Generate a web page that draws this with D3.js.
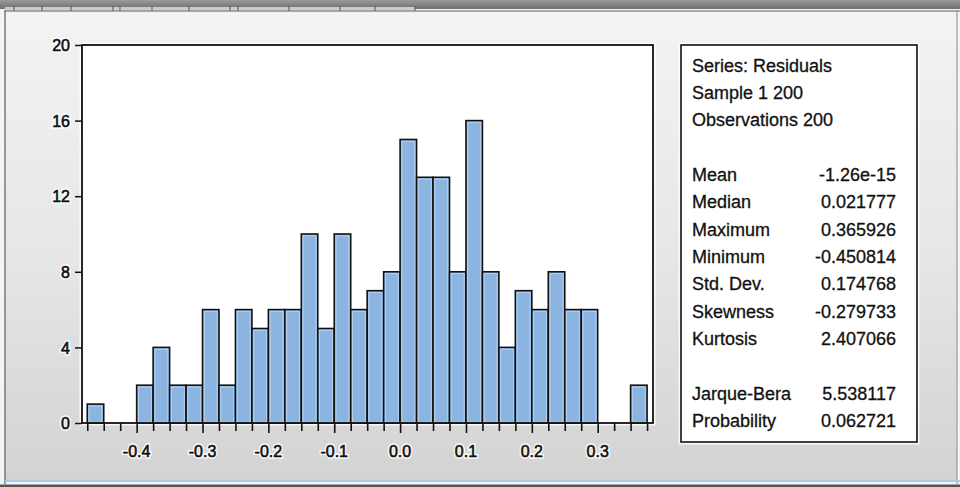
<!DOCTYPE html>
<html>
<head>
<meta charset="utf-8">
<script src="https://cdn.jsdelivr.net/npm/d3@7"></script>
<style>
  html, body { margin: 0; padding: 0; background: #e6e6e6; }
  svg { display: block; }
  text { font-family: "Liberation Sans", Arial, sans-serif; }
</style>
</head>
<body>
<svg id="chart" width="960" height="487"></svg>
<script>
// ---------- data ----------
const binStarts = [-0.475, -0.45, -0.425, -0.4, -0.375, -0.35, -0.325, -0.3, -0.275, -0.25,
                   -0.225, -0.2, -0.175, -0.15, -0.125, -0.1, -0.075, -0.05, -0.025, 0.0,
                   0.025, 0.05, 0.075, 0.1, 0.125, 0.15, 0.175, 0.2, 0.225, 0.25,
                   0.275, 0.3, 0.325, 0.35];
const counts = [1, 0, 0, 2, 4, 2, 2, 6, 2, 6,
                5, 6, 6, 10, 5, 10, 6, 7, 8, 15,
                13, 13, 8, 16, 8, 4, 7, 6, 8, 6,
                6, 0, 0, 2];
const binWidth = 0.025;
const xLabelValues = [-0.4, -0.3, -0.2, -0.1, 0.0, 0.1, 0.2, 0.3];
const xLabelTexts = ["-0.4", "-0.3", "-0.2", "-0.1", "0.0", "0.1", "0.2", "0.3"];
const yTickValues = [0, 4, 8, 12, 16, 20];
const headerLines = ["Series: Residuals", "Sample 1 200", "Observations 200"];
const statNames = ["Mean", "Median", "Maximum", "Minimum", "Std. Dev.", "Skewness", "Kurtosis"];
const statValues = ["-1.26e-15", "0.021777", "0.365926", "-0.450814", "0.174768", "-0.279733", "2.407066"];
const testNames = ["Jarque-Bera", "Probability"];
const testValues = ["5.538117", "0.062721"];
const tabSeparators = [14, 42, 71, 113, 120, 152, 189, 230, 238, 289, 340, 375, 415];

// ---------- layout ----------
const W = 960, H = 487;
const plot = { left: 82, right: 653, top: 45, bottom: 423 };
const svg = d3.select("#chart");
const defs = svg.append("defs");

const bg = defs.append("linearGradient").attr("id", "bg").attr("x1", 0).attr("y1", 0).attr("x2", 0).attr("y2", 1);
bg.append("stop").attr("offset", "0%").attr("stop-color", "#f2f3f2");
bg.append("stop").attr("offset", "50%").attr("stop-color", "#e6e7e6");
bg.append("stop").attr("offset", "100%").attr("stop-color", "#d2d3d2");

const topg = defs.append("linearGradient").attr("id", "topbar").attr("x1", 0).attr("y1", 0).attr("x2", 0).attr("y2", 1);
topg.append("stop").attr("offset", "0%").attr("stop-color", "#9a9a9a");
topg.append("stop").attr("offset", "100%").attr("stop-color", "#6f6f6f");

// window background
svg.append("rect").attr("x", 0).attr("y", 0).attr("width", W).attr("height", H).attr("fill", "#f4f4f4");
svg.append("rect").attr("x", 5).attr("y", 11).attr("width", 952).attr("height", 470).attr("fill", "url(#bg)");
// top bar
svg.append("rect").attr("x", 0).attr("y", 0).attr("width", W).attr("height", 9).attr("fill", "url(#topbar)");
svg.append("rect").attr("x", 5).attr("y", 7).attr("width", 410).attr("height", 3).attr("fill", "#c9cbcc");
svg.selectAll("line.tabsep").data(tabSeparators).join("line")
  .attr("x1", d => d).attr("x2", d => d).attr("y1", 6).attr("y2", 11)
  .attr("stroke", "#555").attr("stroke-width", 1);
svg.append("line").attr("x1", 5).attr("x2", W).attr("y1", 11).attr("y2", 11).attr("stroke", "#5a5a5a").attr("stroke-width", 1.2);
// window borders
svg.append("line").attr("x1", 5).attr("x2", 5).attr("y1", 10).attr("y2", 484).attr("stroke", "#7a7a7a").attr("stroke-width", 1.5);
svg.append("line").attr("x1", 957).attr("x2", 957).attr("y1", 10).attr("y2", 484).attr("stroke", "#9a9a9a").attr("stroke-width", 1.2);
svg.append("line").attr("x1", 5).attr("x2", W).attr("y1", 481).attr("y2", 481).attr("stroke", "#a9cbe9").attr("stroke-width", 2);
svg.append("rect").attr("x", 0).attr("y", 484.5).attr("width", W).attr("height", 2.5).attr("fill", "#555");

// ---------- scales ----------
const x = d3.scaleLinear()
  .domain([(plot.left - 400.1) / 658.6, (plot.right - 400.1) / 658.6])
  .range([plot.left, plot.right]);
const y = d3.scaleLinear().domain([0, 20]).range([plot.bottom, plot.top]);

// plot area with white glow
svg.append("rect").attr("x", plot.left).attr("y", plot.top)
  .attr("width", plot.right - plot.left).attr("height", plot.bottom - plot.top)
  .attr("fill", "#fff").attr("stroke", "#fff").attr("stroke-opacity", 0.8).attr("stroke-width", 5);

// bars
const bars = svg.append("g");
const binData = binStarts.map((s, i) => ({ s, c: counts[i] })).filter(d => d.c > 0);
bars.selectAll("rect.bar").data(binData).join("rect")
  .attr("x", d => x(d.s)).attr("y", d => y(d.c))
  .attr("width", d => x(d.s + binWidth) - x(d.s))
  .attr("height", d => y(0) - y(d.c))
  .attr("fill", "#8cb4e0").attr("stroke", "#111").attr("stroke-width", 1.6);
bars.selectAll("rect.hl").data(binData).join("rect")
  .attr("x", d => x(d.s) + 1.8).attr("y", d => y(d.c) + 1.8)
  .attr("width", d => x(d.s + binWidth) - x(d.s) - 3.6)
  .attr("height", d => y(0) - y(d.c) - 2.5)
  .attr("fill", "none").attr("stroke", "#b4d0ef").attr("stroke-width", 1);

// frame
svg.append("rect").attr("x", plot.left).attr("y", plot.top)
  .attr("width", plot.right - plot.left).attr("height", plot.bottom - plot.top)
  .attr("fill", "none").attr("stroke", "#111").attr("stroke-width", 1.8);

// y axis
const yAxis = svg.append("g").attr("transform", `translate(${plot.left},0)`)
  .call(d3.axisLeft(y).tickValues(yTickValues).tickSize(7).tickPadding(5).tickFormat(d3.format("d")));
yAxis.select(".domain").remove();
yAxis.selectAll("line").attr("stroke", "#111").attr("stroke-width", 1.5);
yAxis.selectAll("text").attr("font-size", 16).attr("fill", "#111")
  .attr("font-family", "Liberation Sans, Arial, sans-serif")
  .attr("stroke", "#111").attr("stroke-width", 0.6)
  .attr("dy", "0.36em");
// white halo behind y labels
yAxis.selectAll(".tick").each(function() {
  const t = d3.select(this).select("text");
  d3.select(this).insert("text", "text")
    .attr("x", t.attr("x")).attr("dy", "0.36em").attr("font-size", 16)
    .attr("fill", "#fff").attr("stroke", "#fff").attr("stroke-width", 3.5).attr("stroke-opacity", 0.85)
    .text(t.text());
});

// x axis ticks at every bin edge
const edges = binStarts.concat([binStarts[binStarts.length - 1] + binWidth]);
const isMajor = v => xLabelValues.some(m => Math.abs(m - v) < 1e-9);
const xAxis = svg.append("g").attr("transform", `translate(0,${plot.bottom})`)
  .call(d3.axisBottom(x).tickValues(edges).tickSize(8).tickFormat(""));
xAxis.select(".domain").remove();
xAxis.selectAll("line").attr("stroke", "#111").attr("stroke-width", 1.6)
  .attr("y2", d => isMajor(d) ? 10 : 8);
const xl = svg.append("g").attr("text-anchor", "middle").attr("font-size", 16);
xl.selectAll("text.halo").data(xLabelValues).join("text")
  .attr("x", d => x(d)).attr("y", 457)
  .attr("fill", "#fff").attr("stroke", "#fff").attr("stroke-width", 3.5).attr("stroke-opacity", 0.85)
  .text((d, i) => xLabelTexts[i]);
xl.selectAll("text.lbl").data(xLabelValues).join("text")
  .attr("x", d => x(d)).attr("y", 457)
  .attr("fill", "#111").attr("stroke", "#111").attr("stroke-width", 0.6)
  .text((d, i) => xLabelTexts[i]);

// ---------- stats box ----------
const box = { x: 681, y: 45, w: 236, h: 397 };
svg.append("rect").attr("x", box.x).attr("y", box.y).attr("width", box.w).attr("height", box.h)
  .attr("fill", "#fff").attr("stroke", "#fff").attr("stroke-opacity", 0.8).attr("stroke-width", 5);
svg.append("rect").attr("x", box.x).attr("y", box.y).attr("width", box.w).attr("height", box.h)
  .attr("fill", "#fff").attr("stroke", "#111").attr("stroke-width", 1.6);

const lineStep = 27.33, base0 = 71.7, textX = 692, valX = 896;
const st = svg.append("g").attr("font-size", 18).attr("fill", "#111")
  .attr("stroke", "#111").attr("stroke-width", 0.3);
headerLines.forEach((t, i) => {
  st.append("text").attr("x", textX).attr("y", base0 + i * lineStep).text(t);
});
statNames.forEach((t, i) => {
  const yy = base0 + (4 + i) * lineStep;
  st.append("text").attr("x", textX).attr("y", yy).text(t);
  st.append("text").attr("x", valX).attr("y", yy).attr("text-anchor", "end").text(statValues[i]);
});
testNames.forEach((t, i) => {
  const yy = base0 + (12 + i) * lineStep;
  st.append("text").attr("x", textX).attr("y", yy).text(t);
  st.append("text").attr("x", valX).attr("y", yy).attr("text-anchor", "end").text(testValues[i]);
});
</script>
</body>
</html>
